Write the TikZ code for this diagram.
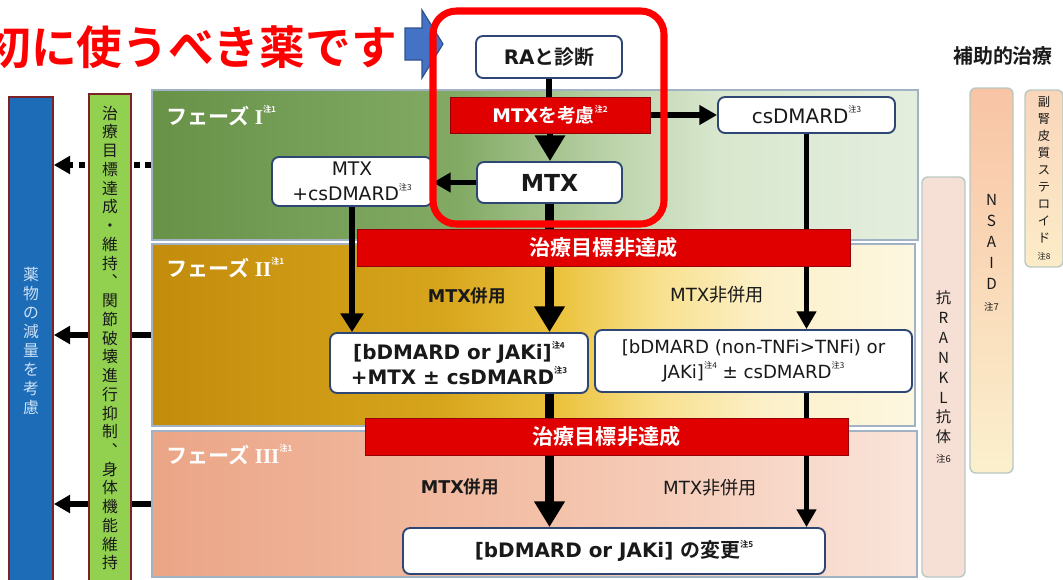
\documentclass[tikz,border=0pt]{standalone}
\usepackage{fontspec}
\setmainfont{DejaVu Sans}
\newfontfamily\jp{Noto Sans CJK JP}[BoldFont={Noto Sans CJK JP Bold}]
\newfontfamily\rom{Liberation Serif}
\usetikzlibrary{arrows.meta}
\pgfdeclarelayer{panels}
\pgfdeclarelayer{lines}
\pgfsetlayers{panels,lines,main}
\definecolor{titlered}{RGB}{255,0,0}
\definecolor{barred}{RGB}{224,0,0}
\definecolor{bardark}{RGB}{150,0,10}
\definecolor{nodeblue}{RGB}{45,70,115}
\definecolor{txt}{RGB}{25,25,25}
\definecolor{arrowblue}{RGB}{68,114,196}
\definecolor{arrowblued}{RGB}{47,82,143}
\definecolor{panelborder}{RGB}{160,178,195}
\definecolor{colblue}{RGB}{28,108,184}
\definecolor{colbluetext}{RGB}{205,225,245}
\definecolor{colgreen}{RGB}{146,208,80}
\definecolor{maroon}{RGB}{125,35,40}
\definecolor{ranklfill}{RGB}{246,224,214}
\definecolor{sideborder}{RGB}{185,200,195}
\definecolor{gA}{RGB}{104,146,72}
\definecolor{gB}{RGB}{130,170,100}
\definecolor{gC}{RGB}{188,211,170}
\definecolor{gD}{RGB}{216,231,206}
\definecolor{gE}{RGB}{228,238,222}
\definecolor{yA}{RGB}{195,140,12}
\definecolor{yB}{RGB}{215,165,28}
\definecolor{yC}{RGB}{236,196,64}
\definecolor{yD}{RGB}{248,224,140}
\definecolor{yE}{RGB}{252,240,200}
\definecolor{yF}{RGB}{253,247,225}
\definecolor{sA}{RGB}{235,165,135}
\definecolor{sB}{RGB}{243,192,168}
\definecolor{sC}{RGB}{250,228,218}
\definecolor{nT}{RGB}{248,196,165}
\definecolor{nB}{RGB}{251,240,205}
\definecolor{stT}{RGB}{249,214,186}
\definecolor{stB}{RGB}{252,236,200}
\pgfdeclarehorizontalshading{shI}{100bp}{color(0bp)=(gA); color(25bp)=(gA); color(45bp)=(gB); color(55bp)=(gC); color(62bp)=(gD); color(75bp)=(gE); color(100bp)=(gE)}
\pgfdeclarehorizontalshading{shII}{100bp}{color(0bp)=(yA); color(25bp)=(yA); color(44bp)=(yB); color(52bp)=(yC); color(58bp)=(yD); color(65bp)=(yE); color(75bp)=(yF); color(100bp)=(yF)}
\pgfdeclarehorizontalshading{shIII}{100bp}{color(0bp)=(sA); color(25bp)=(sA); color(50bp)=(sB); color(75bp)=(sC); color(100bp)=(sC)}
\pgfdeclareverticalshading{shN}{100bp}{color(0bp)=(nB); color(25bp)=(nB); color(75bp)=(nT); color(100bp)=(nT)}
\pgfdeclareverticalshading{shS}{100bp}{color(0bp)=(stB); color(25bp)=(stB); color(75bp)=(stT); color(100bp)=(stT)}
\newcommand\chu[1]{\raisebox{0.55em}{\fontsize{7}{7}\selectfont\jp 注#1}}
\begin{document}
\begin{tikzpicture}[x=0.03cm,y=-0.03cm,
  px/.style 2 args={minimum width={#1*0.03cm}, minimum height={#2*0.03cm}},
  wbox/.style={draw=nodeblue, line width=1.6pt, fill=white, rounded corners=6pt, inner sep=0pt, align=center, text=txt},
  redbar/.style={draw=bardark, line width=0.8pt, fill=barred, inner sep=0pt, text=white, font={\jp\bfseries\fontsize{18}{20}\selectfont}},
  panel/.style={draw=panelborder, line width=1.2pt, inner sep=0pt},
  sidecol/.style={draw=sideborder, line width=1.2pt, rounded corners=5pt, inner sep=0pt, align=center, text=txt},
  leftcol/.style={draw=maroon, line width=1.4pt, inner sep=0pt, align=center},
  conn/.style={line width=5pt, draw=black},
  bigconn/.style={line width=7pt, draw=black, -{Triangle[width=25pt,length=22pt]}},
  midconn/.style={line width=5pt, draw=black, -{Triangle[width=16pt,length=15pt]}},
  sidearrow/.style={line width=5pt, draw=black, -{Triangle[width=15pt,length=14pt]}},
  phaselabel/.style={anchor=west, inner sep=0pt, text=white, font={\bfseries\fontsize{18}{20}\selectfont}},
  plain/.style={inner sep=0pt, text=txt}]
\useasboundingbox (0,0) rectangle (1063,579);
\begin{pgfonlayer}{panels}
\fill[white] (0,0) rectangle (1063,579);
\node[panel, shade, shading=shI, px={766}{150}] (p1) at (535,165) {};
\node[panel, shade, shading=shII, px={763}{182}] (p2) at (533.5,335) {};
\node[panel, shade, shading=shIII, px={765}{146}] (p3) at (534.5,504) {};
\node[leftcol, fill=colblue, px={44}{488}, text=colbluetext, font={\jp\fontsize{13.5}{16.3}\selectfont}] (blue) at (31,341) {薬\\物\\の\\減\\量\\を\\考\\慮};
\node[sidecol, fill=ranklfill, px={43}{400}, font={\jp\fontsize{13}{17}\selectfont}] (rankl) at (943.5,377) {抗\\R\\A\\N\\K\\L\\抗\\体\\{\fontsize{8}{8}\selectfont 注6}};
\node[sidecol, shade, shading=shN, px={43}{385}, label={[yshift=0.84cm, align=center, text=txt, font={\jp\fontsize{13}{18}\selectfont}]center:N\\S\\A\\I\\D\\{\fontsize{8}{8}\selectfont 注7}}] (nsaid) at (991.5,280.5) {};
\node[sidecol, shade, shading=shS, px={38}{177}, font={\jp\fontsize{10.5}{14.5}\selectfont}] (ster) at (1044,178.5) {副\\腎\\皮\\質\\ス\\テ\\ロ\\イ\\ド\\{\fontsize{7}{7}\selectfont 注8}};
\end{pgfonlayer}
% main nodes
\node[leftcol, fill=colgreen, px={42}{488}, text=txt, font={\jp\fontsize{13.5}{16}\selectfont}] (green) at (110,338) {治\\療\\目\\標\\達\\成\\・\\維\\持\\︑\\関\\節\\破\\壊\\進\\行\\抑\\制\\︑\\身\\体\\機\\能\\維\\持};
\node[phaselabel] (l1) at (166,116) {{\jp フェーズ}\hspace{0.25em}{\rom I}\chu{1}};
\node[phaselabel] (l2) at (166,268) {{\jp フェーズ}\hspace{0.25em}{\rom II}\chu{1}};
\node[phaselabel] (l3) at (166,455) {{\jp フェーズ}\hspace{0.25em}{\rom III}\chu{1}};
\node[wbox, px={146}{42}, font={\bfseries\fontsize{17}{20}\selectfont}] (ra) at (549,57) {RA{\jp と診断}};
\node[redbar, px={200}{36}, font={\bfseries\fontsize{16}{18}\selectfont}] (mk) at (550,115) {MTX{\jp を考慮}\chu{2}};
\node[wbox, px={177}{36}, font={\fontsize{17}{20}\selectfont}] (cs) at (806.5,115) {csDMARD\chu{3}};
\node[wbox, px={145}{41}, font={\bfseries\fontsize{20}{22}\selectfont}] (mtx) at (549.5,182.5) {MTX};
\node[wbox, px={160}{49}, font={\fontsize{16}{21}\selectfont}] (mc) at (352,181.5) {MTX\\+csDMARD\chu{3}};
\node[redbar, px={493}{37}] (bar1) at (603.5,247.5) {治療目標非達成};
\node[wbox, px={258}{60}, font={\bfseries\fontsize{17}{21}\selectfont}] (bl) at (459,363) {[bDMARD or JAKi]\chu{4}\\+MTX ± csDMARD\chu{3}};
\node[wbox, px={317}{62}, font={\fontsize{15.5}{21}\selectfont}] (br) at (753.5,361) {[bDMARD (non-TNFi>TNFi) or\\JAKi]\chu{4} ± csDMARD\chu{3}};
\node[redbar, px={483}{37}] (bar2) at (606.5,436.5) {治療目標非達成};
\node[wbox, px={422}{46}, font={\bfseries\fontsize{17}{20}\selectfont}] (bt) at (614,551) {[bDMARD or JAKi] {\jp の変更}\chu{5}};
\node[plain, font={\bfseries\fontsize{15}{18}\selectfont}] (c2) at (467,296) {MTX{\jp 併用}};
\node[plain, font={\fontsize{15.5}{18}\selectfont}] (n2) at (717,295) {MTX{\jp 非併用}};
\node[plain, font={\bfseries\fontsize{15}{18}\selectfont}] (c3) at (460,487) {MTX{\jp 併用}};
\node[plain, font={\fontsize{15.5}{18}\selectfont}] (n3) at (710,488) {MTX{\jp 非併用}};
\node[plain, font={\jp\bfseries\fontsize{17}{19}\selectfont}] (aux) at (1003,56) {補助的治療};
\node[inner sep=0pt, anchor=east, text=titlered, font={\jp\bfseries\fontsize{39}{42}\selectfont}] (title) at (397,47) {初に使うべき薬です};
\draw[fill=arrowblue, draw=arrowblued, line width=1pt] (405,28) -- (422,28) -- (422,10) -- (443,44) -- (422,78) -- (422,60) -- (405,60) -- cycle;
\node[draw=titlered, line width=6pt, rounded corners=20pt, px={231}{213}, inner sep=0pt] (focus) at (548.5,117.5) {};
% connectors
\begin{pgfonlayer}{lines}
\draw[conn] (ra.south) -- (ra.south |- mk.north);
\draw[line width=5pt, -{Triangle[width=25pt,length=22pt]}] (mk.south) -- (mk.south |- mtx.north);
\draw[midconn] (mk.east) -- (cs.west);
\draw[midconn] (mtx.west) -- (mtx.west -| mc.east);
\draw[line width=5pt, -{Triangle[width=19pt,length=16pt]}] (mc.south) -- (mc.south |- bl.north);
\draw[bigconn] (mtx.south) -- (mtx.south |- bl.north);
\draw[midconn] (cs.south) -- (cs.south |- br.north);
\draw[bigconn] (mtx.south |- bl.south) -- (mtx.south |- bt.north);
\draw[midconn] (cs.south |- br.south) -- (cs.south |- bt.north);
\draw[sidearrow, dash pattern=on 5pt off 4.5pt] (p1.west) -- (p1.west -| blue.east);
\draw[sidearrow] (p2.west) -- (p2.west -| blue.east);
\draw[sidearrow] (p3.west) -- (p3.west -| blue.east);
\end{pgfonlayer}
\end{tikzpicture}
\end{document}
